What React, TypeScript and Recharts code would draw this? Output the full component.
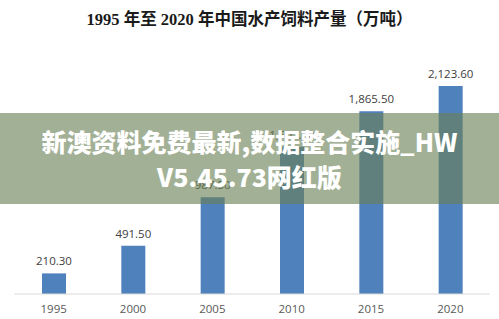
import { Bar, BarChart, LabelList, XAxis, YAxis } from 'recharts';

const years = ['1995', '2000', '2005', '2010', '2015', '2020'];
const output = [210.3, 491.5, 987.5, 1502.0, 1865.5, 2123.6];

const chartData = years.map((year, i) => ({ year, value: output[i] }));

const title = '1995 年至 2020 年中国水产饲料产量（万吨）';
const bannerLine1 = '新澳资料免费最新,数据整合实施_HW';
const bannerLine2 = 'V5.45.73网红版';

const formatValue = (v: number) =>
    v.toLocaleString('en-US', { minimumFractionDigits: 2, maximumFractionDigits: 2 });

export default function App() {
    return (
        <div style={{ position: 'relative', width: 499, height: 319, background: '#fff', overflow: 'hidden' }}>
            <style>{'body{margin:0}'}</style>
            <div
                style={{
                    position: 'absolute',
                    top: 10,
                    left: 0,
                    width: 499,
                    textAlign: 'center',
                    fontFamily: '"Liberation Serif", "Noto Sans CJK SC", serif',
                    fontWeight: 700,
                    fontSize: 16.5,
                    lineHeight: '20px',
                    color: '#1a1a1a',
                }}
            >
                {title}
            </div>
            <BarChart
                width={499}
                height={319}
                data={chartData}
                margin={{ top: 49, right: 9, left: 14, bottom: 0 }}
                barSize={24}
            >
                <XAxis
                    dataKey="year"
                    height={25}
                    tickLine={false}
                    tickMargin={5}
                    axisLine={{ stroke: '#d9d9d9' }}
                    tick={{ fill: '#595959', fontSize: 11.5, fontFamily: '"Open Sans", sans-serif' }}
                />
                <YAxis hide domain={[0, 2500]} />
                <Bar dataKey="value" fill="#4f81bd" isAnimationActive={false}>
                    <LabelList
                        dataKey="value"
                        position="top"
                        offset={8}
                        formatter={(v: number) => formatValue(v)}
                        style={{ fill: '#404040', fontSize: 11.5, fontFamily: '"Open Sans", sans-serif' }}
                    />
                </Bar>
            </BarChart>
            <div
                style={{
                    position: 'absolute',
                    top: 113,
                    left: 0,
                    width: 499,
                    height: 91,
                    background: 'rgba(105,127,84,0.62)',
                    color: '#fff',
                    textAlign: 'center',
                    fontFamily: '"Noto Sans CJK SC", sans-serif',
                    fontWeight: 900,
                    fontSize: 25,
                    lineHeight: '35px',
                    paddingTop: 11,
                    boxSizing: 'border-box',
                }}
            >
                {bannerLine1}
                <br />
                {bannerLine2}
            </div>
        </div>
    );
}
